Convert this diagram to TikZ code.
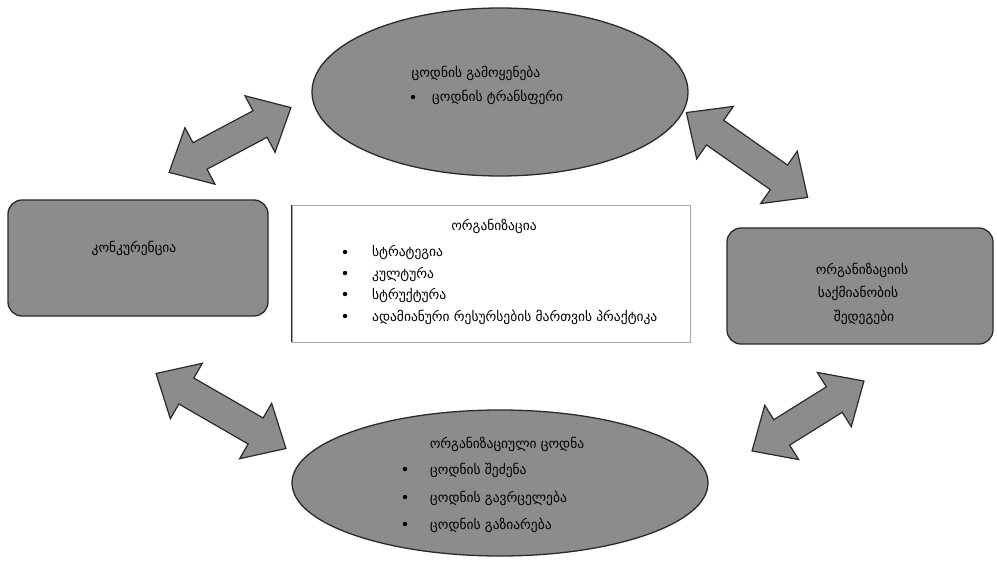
\documentclass[tikz,border=0pt]{standalone}
\usepackage{fontspec}
\setmainfont{DejaVu Sans}
\usetikzlibrary{shapes.geometric}
\definecolor{shapegray}{HTML}{8C8C8C}
\definecolor{edgegray}{HTML}{2A2A2A}
\tikzset{
  blob/.style={draw=edgegray, line width=1.3pt, fill=shapegray},
  roundbox/.style={blob, rectangle, rounded corners=14pt, inner sep=0pt},
  oval/.style={blob, ellipse, inner sep=0pt},
  arrowshape/.style={draw=edgegray, line width=1.2pt, fill=shapegray, line join=miter},
  lbl/.style={font=\fontsize{13.5}{15}\selectfont, inner sep=0pt, anchor=base},
  itm/.style={font=\fontsize{13.5}{15}\selectfont, inner sep=0pt, anchor=base west},
  dot/.style={circle, fill=black, inner sep=0pt, minimum size=4.5pt},
}
\newcommand{\dblarrow}[4]{%
  \begin{scope}[shift={(#1)}, rotate=#2]
    \draw[arrowshape] (-#3/2,0) -- (-#3/2+#4,32) -- (-#3/2+#4,15) -- (#3/2-#4,15)
      -- (#3/2-#4,32) -- (#3/2,0) -- (#3/2-#4,-32) -- (#3/2-#4,-15)
      -- (-#3/2+#4,-15) -- (-#3/2+#4,-32) -- cycle;
  \end{scope}}
\begin{document}
\begin{tikzpicture}[x=1pt, y=-1pt]
\useasboundingbox (0,0) rectangle (997,567);
% arrows
\dblarrow{230,140}{28}{138}{35}
\dblarrow{747,155}{-35}{148}{35}
\dblarrow{221,411}{-30}{150}{35}
\dblarrow{808,416}{32}{132}{35}
% shapes
\node[oval, minimum width=376pt, minimum height=168pt] (top) at (500,92) {};
\node[oval, minimum width=416pt, minimum height=146pt] (bot) at (500,483) {};
\node[roundbox, minimum width=260pt, minimum height=116pt] (left) at (138,258) {};
\node[roundbox, minimum width=266pt, minimum height=116pt] (right) at (860,286) {};
\node[draw=gray!70, line width=0.8pt, fill=white, minimum width=398pt, minimum height=137pt, inner sep=0pt] (mid) at (491,273.5) {};
\draw[line width=1.6pt, edgegray] (mid.north west) -- (mid.south west);
% top ellipse text
\node[lbl] (t1) at (476,78) {ცოდნის გამოყენება};
\node[dot] (td) at (413,97) {};
\node[itm] (t2) at (432,102) {ცოდნის ტრანსფერი};
% left
\node[lbl] (l1) at (134,252) {კონკურენცია};
% middle
\node[lbl] (m1) at (494,231) {ორგანიზაცია};
\node[dot] (md1) at (345,252) {};
\node[itm] (m2) at (372,257) {სტრატეგია};
\node[dot] (md2) at (345,273) {};
\node[itm] (m3) at (372,278) {კულტურა};
\node[dot] (md3) at (345,294) {};
\node[itm] (m4) at (372,299) {სტრუქტურა};
\node[dot] (md4) at (345,316) {};
\node[itm] (m5) at (372,321) {ადამიანური რესურსების მართვის პრაქტიკა};
% right
\node[lbl] (r1) at (862,274) {ორგანიზაციის};
\node[lbl] (r2) at (858,297) {საქმიანობის};
\node[lbl] (r3) at (864,321) {შედეგები};
% bottom ellipse
\node[lbl] (b1) at (507,448) {ორგანიზაციული ცოდნა};
\node[dot] (bd1) at (405,469) {};
\node[itm] (b2) at (430,474) {ცოდნის შეძენა};
\node[dot] (bd2) at (405,497) {};
\node[itm] (b3) at (430,502) {ცოდნის გავრცელება};
\node[dot] (bd3) at (405,524) {};
\node[itm] (b4) at (430,529) {ცოდნის გაზიარება};
\end{tikzpicture}
\end{document}
